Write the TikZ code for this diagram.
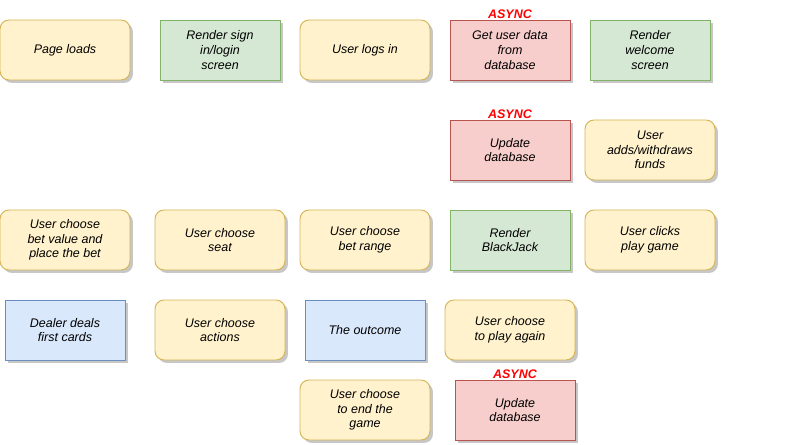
\documentclass[tikz,border=0pt]{standalone}
\usepackage{fontspec}
\setmainfont{Liberation Sans}
\usetikzlibrary{positioning,shadows}

\definecolor{ylwfill}{HTML}{FFF2CC}
\definecolor{ylwline}{HTML}{D6B656}
\definecolor{grnfill}{HTML}{D5E8D4}
\definecolor{grnline}{HTML}{82B366}
\definecolor{redfill}{HTML}{F8CECC}
\definecolor{redline}{HTML}{B85450}
\definecolor{blufill}{HTML}{DAE8FC}
\definecolor{bluline}{HTML}{6C8EBF}

\begin{document}
\begin{tikzpicture}[x=0.02cm,y=-0.02cm,
    box/.style={align=center, line width=0.55pt, inner sep=1pt,
        font=\fontsize{7.1}{8.3}\selectfont\itshape,
        minimum height=1.2cm,
        drop shadow={shadow xshift=0.06cm, shadow yshift=-0.06cm, fill=black!22, opacity=1}},
    userbox/.style={box, draw=ylwline, fill=ylwfill, rounded corners=0.18cm, minimum width=2.6cm},
    renderbox/.style={box, draw=grnline, fill=grnfill, minimum width=2.4cm},
    dbbox/.style={box, draw=redline, fill=redfill, minimum width=2.4cm},
    gamebox/.style={box, draw=bluline, fill=blufill, minimum width=2.4cm},
    async/.style={text=red, inner sep=0.5pt, font=\fontsize{7.1}{8}\selectfont\bfseries\itshape}]
    \useasboundingbox (0,0) rectangle (789,445);

    \node[userbox] (pageload) at (65,50) {Page loads};
    \node[renderbox] (rendersign) at (220,50) {Render sign\\in/login\\screen};
    \node[userbox] (login) at (365,50) {User logs in};
    \node[dbbox] (getdata) at (510,50) {Get user data\\from\\database};
    \node[renderbox] (welcome) at (650,50) {Render\\welcome\\screen};
    \node[async, above=0pt of getdata] (asyncget) {ASYNC};

    \node[dbbox] (update) at (510,150) {Update\\database};
    \node[userbox] (funds) at (650,150) {User\\adds/withdraws\\funds};
    \node[async, above=0pt of update] (asyncupdate) {ASYNC};

    \node[userbox] (betvalue) at (65,240) {User choose\\bet value and\\place the bet};
    \node[userbox] (seat) at (220,240) {User choose\\seat};
    \node[userbox] (betrange) at (365,240) {User choose\\bet range};
    \node[renderbox] (blackjack) at (510,240) {Render\\BlackJack};
    \node[userbox] (playgame) at (650,240) {User clicks\\play game};

    \node[gamebox] (dealer) at (65,330) {Dealer deals\\first cards};
    \node[userbox] (actions) at (220,330) {User choose\\actions};
    \node[gamebox] (outcome) at (365,330) {The outcome};
    \node[userbox] (again) at (510,330) {User choose\\to play again};

    \node[userbox] (endgame) at (365,410) {User choose\\to end the\\game};
    \node[dbbox] (finalupdate) at (515,410) {Update\\database};
    \node[async, above=0pt of finalupdate] (asyncfinal) {ASYNC};
\end{tikzpicture}
\end{document}
